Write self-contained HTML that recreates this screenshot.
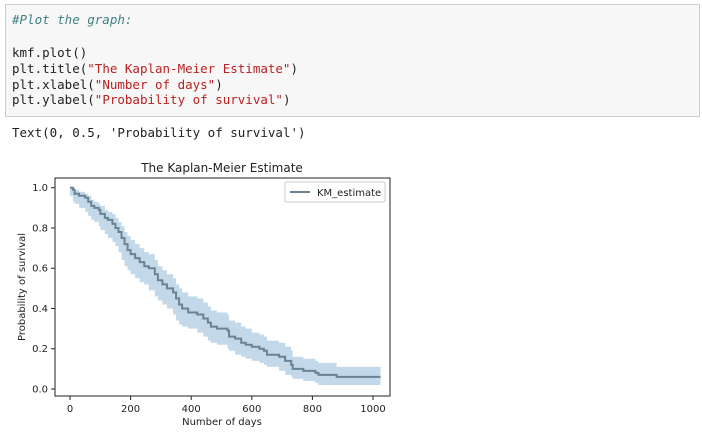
<!DOCTYPE html>
<html><head><meta charset="utf-8"><style>
body{margin:0;width:702px;height:440px;background:#fff;overflow:hidden;position:relative;font-family:"Liberation Sans",sans-serif}
.cell{position:absolute;left:5px;top:4px;width:695px;height:113px;border:1px solid #cfcfcf;background:#f7f7f7;box-sizing:border-box}
.code{position:absolute;font-family:"DejaVu Sans Mono","Liberation Mono",monospace;font-size:12.5px;color:#222;white-space:pre}
</style></head><body>
<div class="cell"></div>
<div class="code" style="left:12px;top:12px;color:#408080;font-style:italic">#Plot the graph:</div>
<div class="code" style="left:12px;top:45px;line-height:15.8px">kmf.plot()
plt.title(<span style="color:#ba2121">"The Kaplan-Meier Estimate"</span>)
plt.xlabel(<span style="color:#ba2121">"Number of days"</span>)
plt.ylabel(<span style="color:#ba2121">"Probability of survival"</span>)</div>
<div class="code" style="left:12px;top:125px">Text(0, 0.5, 'Probability of survival')</div>
<svg id="chart" width="702" height="440" style="position:absolute;left:0;top:0" font-family="DejaVu Sans, Liberation Sans, sans-serif"></svg>
<script>
const times=[0,10,15,30,50,60,70,80,95,100,115,125,140,150,160,170,180,190,200,215,230,245,260,280,290,305,320,340,350,360,370,390,420,440,455,465,485,520,525,545,565,580,600,625,640,650,690,710,730,735,770,810,820,880,1025];
const surv=[1.0,0.99,0.97,0.96,0.95,0.93,0.91,0.90,0.89,0.87,0.85,0.84,0.82,0.80,0.78,0.75,0.72,0.69,0.67,0.65,0.63,0.61,0.60,0.57,0.54,0.52,0.50,0.48,0.45,0.42,0.40,0.38,0.37,0.35,0.33,0.31,0.30,0.29,0.26,0.25,0.23,0.22,0.21,0.20,0.19,0.17,0.16,0.14,0.12,0.10,0.09,0.08,0.07,0.06,0.06];
const lower=[1.0,0.96,0.93,0.92,0.90,0.88,0.86,0.84,0.83,0.81,0.79,0.77,0.75,0.73,0.71,0.68,0.64,0.61,0.59,0.57,0.55,0.53,0.52,0.49,0.46,0.44,0.42,0.40,0.37,0.34,0.32,0.31,0.30,0.28,0.26,0.24,0.23,0.22,0.20,0.19,0.17,0.16,0.15,0.14,0.13,0.12,0.11,0.09,0.07,0.06,0.05,0.04,0.03,0.02,0.02];
const upper=[1.0,1.0,0.99,0.98,0.97,0.96,0.94,0.93,0.92,0.91,0.89,0.88,0.87,0.85,0.83,0.81,0.78,0.76,0.74,0.72,0.70,0.68,0.67,0.64,0.61,0.59,0.57,0.55,0.52,0.50,0.48,0.46,0.45,0.43,0.41,0.39,0.38,0.37,0.34,0.33,0.31,0.30,0.28,0.27,0.26,0.24,0.23,0.21,0.19,0.16,0.15,0.14,0.13,0.11,0.11];
const xTicks=[0,200,400,600,800,1000];
const yTicks=[0.0,0.2,0.4,0.6,0.8,1.0];
const NS="http://www.w3.org/2000/svg";
const svg=document.getElementById('chart');
const L=55,R=390,T=178,B=396;
const X=v=>70+v*0.303, Y=v=>389-v*201.3;
function mk(t,a,txt){const e=document.createElementNS(NS,t);for(const k in a)e.setAttribute(k,a[k]);if(txt!==undefined)e.textContent=txt;svg.appendChild(e);return e;}
function stepPath(arr){let d='M'+X(times[0])+','+Y(arr[0]);for(let i=1;i<times.length;i++){d+=' H'+X(times[i])+' V'+Y(arr[i]);}return d;}
// band
let d=stepPath(upper);
for(let i=times.length-1;i>=1;i--){d+=(i===times.length-1?' L':' H')+X(times[i])+','+Y(lower[i]);d+=' V'+Y(lower[i-1]);}
d=d.replace(/ H([\d.]+),([\d.]+)/g,' L$1,$2');
let band=stepPath(upper);
let back='';
for(let i=times.length-1;i>=1;i--){back+=' L'+X(times[i])+','+Y(lower[i])+' L'+X(times[i-1])+','+Y(lower[i])+' L'+X(times[i-1])+','+Y(lower[i-1]);}
let b=mk('path',{d:band+back+' Z',fill:'#c3d9ea',stroke:'none'});


let ln=mk('path',{d:stepPath(surv),fill:'none',stroke:'#6a8393','stroke-width':2});


let fr=mk('rect',{x:L,y:T,width:R-L,height:B-T,fill:'none',stroke:'#222','stroke-width':1});


xTicks.forEach(v=>{
 const t=mk('line',{x1:X(v),x2:X(v),y1:B,y2:B+4,stroke:'#222'});
 
 
 const l=mk('text',{x:X(v),y:B+16,'font-size':10,'text-anchor':'middle',fill:'#222'},v);
 
 
});
yTicks.forEach(v=>{
 const t=mk('line',{x1:L-4,x2:L,y1:Y(v),y2:Y(v),stroke:'#222'});
 
 
 const l=mk('text',{x:L-7,y:Y(v)+3.5,'font-size':10,'text-anchor':'end',fill:'#222'},v.toFixed(1));
 
 
});
let ti=mk('text',{x:222,y:172,'font-size':12,'text-anchor':'middle',fill:'#222'},'The Kaplan-Meier Estimate');


let xl=mk('text',{x:222,y:425,'font-size':10,'text-anchor':'middle',fill:'#222'},'Number of days');


let yl=mk('text',{x:0,y:0,'font-size':10,'text-anchor':'middle',fill:'#222',transform:'translate(25,287) rotate(-90)'},'Probability of survival');


let lg=mk('rect',{x:285,y:182,width:100,height:20,fill:'#fff',stroke:'#ccc',rx:2});


let ll=mk('line',{x1:290,x2:310,y1:192,y2:192,stroke:'#6a8393','stroke-width':2});


let lt=mk('text',{x:317,y:196,'font-size':10,fill:'#222'},'KM_estimate');


</script>
</body></html>
